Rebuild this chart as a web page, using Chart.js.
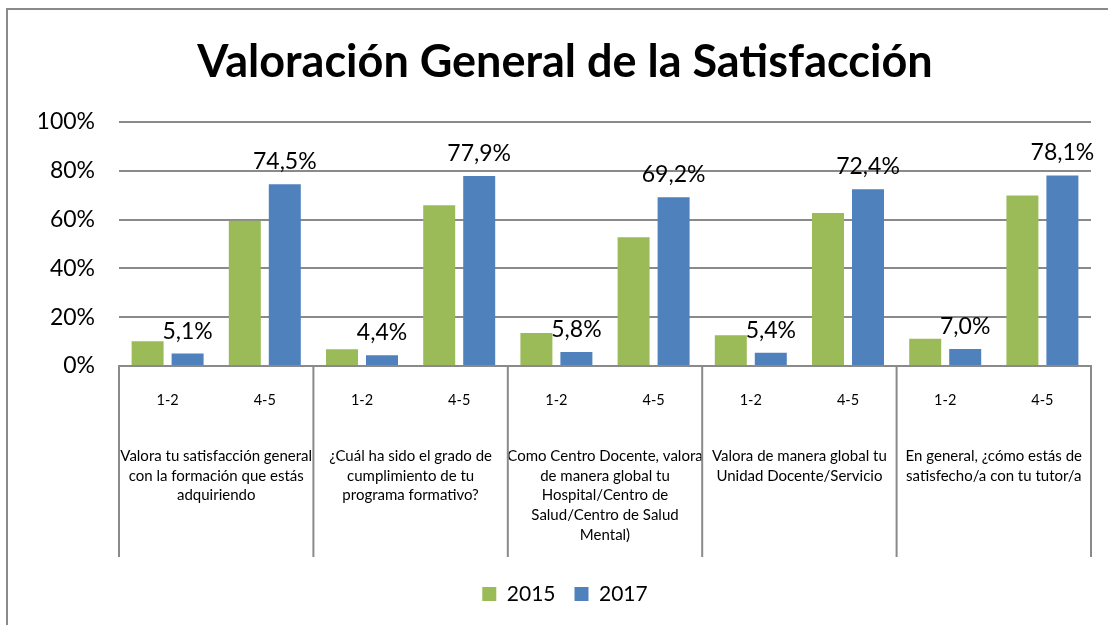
<!DOCTYPE html>
<html>
<head>
<meta charset="utf-8">
<script src="https://cdn.jsdelivr.net/npm/chart.js@4.4.1/dist/chart.umd.min.js"></script>
<style>
  html, body { margin: 0; padding: 0; background: #fff; overflow: hidden; }
  #caja { position: relative; width: 1108px; height: 625px; }
</style>
</head>
<body>
<div id="caja"><canvas id="grafico"></canvas></div>
<script>
// Datos del gráfico
const puntuaciones = ['1-2', '4-5', '1-2', '4-5', '1-2', '4-5', '1-2', '4-5', '1-2', '4-5'];
const preguntas = [
    ['Valora tu satisfacción general', 'con la formación que estás', 'adquiriendo'],
    ['¿Cuál ha sido el grado de', 'cumplimiento de tu', 'programa formativo?'],
    ['Como Centro Docente, valora', 'de manera global tu', 'Hospital/Centro de', 'Salud/Centro de Salud', 'Mental)'],
    ['Valora de manera global tu', 'Unidad Docente/Servicio'],
    ['En general, ¿cómo estás de', 'satisfecho/a con tu tutor/a']
];
const series = ['2015', '2017'];
const valores2015 = [10.2, 59.5, 6.9, 65.9, 13.5, 52.8, 12.6, 62.7, 11.2, 69.9];
const valores2017 = [5.1, 74.5, 4.4, 77.9, 5.8, 69.2, 5.4, 72.4, 7.0, 78.1];
const ticksY = [0, 20, 40, 60, 80, 100];

const verde = '#9BBB59';
const azul = '#4F81BD';
const gris = '#8a8a8a';

// formato 74,5%
const pct = (v) => v.toFixed(1).replace('.', ',') + '%';

Chart.defaults.font.family = 'Lato';
Chart.defaults.color = '#000';

// marco del gráfico (solo se ven lado izquierdo y superior)
const marco = {
    id: 'marco',
    beforeDraw(chart) {
        const ctx = chart.ctx;
        ctx.save();
        ctx.fillStyle = '#fff';
        ctx.fillRect(0, 0, chart.width, chart.height);
        ctx.strokeStyle = gris;
        ctx.lineWidth = 2;
        ctx.beginPath();
        ctx.moveTo(7, chart.height);
        ctx.lineTo(7, 9);
        ctx.lineTo(chart.width, 9);
        ctx.stroke();
        ctx.restore();
    }
};

// líneas que separan cada pregunta en el eje
const separadores = {
    id: 'separadores',
    afterDraw(chart) {
        const { ctx, chartArea, scales } = chart;
        const xg = scales.xg;
        ctx.save();
        ctx.strokeStyle = gris;
        ctx.lineWidth = 2;
        for (let i = 0; i <= preguntas.length; i++) {
            const x = xg.getPixelForValue(i - 0.5);
            ctx.beginPath();
            ctx.moveTo(x, chartArea.bottom);
            ctx.lineTo(x, xg.bottom);
            ctx.stroke();
        }
        ctx.restore();
    }
};

// etiquetas de la serie 2017
const etiquetas = {
    id: 'etiquetas',
    afterDatasetsDraw(chart) {
        const ctx = chart.ctx;
        const meta = chart.getDatasetMeta(1);
        ctx.save();
        ctx.font = '23px Lato';
        ctx.fillStyle = '#000';
        ctx.textAlign = 'center';
        ctx.textBaseline = 'alphabetic';
        meta.data.forEach((barra, i) => {
            ctx.fillText(pct(valores2017[i]), barra.x, barra.y - 15);
        });
        ctx.restore();
    }
};

new Chart(document.getElementById('grafico'), {
    type: 'bar',
    data: {
        labels: puntuaciones,
        datasets: [
            { label: series[0], data: valores2015, backgroundColor: verde },
            { label: series[1], data: valores2017, backgroundColor: azul }
        ]
    },
    plugins: [marco, separadores, etiquetas],
    options: {
        responsive: true,
        maintainAspectRatio: false,
        animation: false,
        categoryPercentage: 0.823,
        barPercentage: 0.8,
        layout: { padding: { left: 39, right: 17, top: 0, bottom: 10.5 } },
        plugins: {
            title: {
                display: true,
                text: 'Valoración General de la Satisfacción',
                font: { size: 45, weight: 'bold' },
                color: '#000',
                padding: { top: 35, bottom: 33 }
            },
            legend: {
                position: 'bottom',
                title: { display: true, text: '', font: { size: 1 }, padding: { top: 6.3, bottom: 0 } },
                labels: {
                    boxWidth: 14,
                    boxHeight: 14,
                    padding: 19,
                    font: { size: 21 }
                }
            },
            tooltip: { enabled: false }
        },
        scales: {
            y: {
                min: 0,
                max: 100,
                afterBuildTicks: (s) => { s.ticks = ticksY.map(v => ({ value: v })); },
                afterFit: (s) => { s.width = 80; },
                ticks: {
                    padding: 24,
                    font: { size: 23 },
                    callback: (v) => v + '%'
                },
                grid: { color: gris, lineWidth: 2, drawTicks: false },
                border: { display: false }
            },
            x: {
                weight: 0,
                ticks: {
                    autoSkip: false,
                    maxRotation: 0,
                    minRotation: 0,
                    padding: 25.3,
                    font: { size: 14.5, lineHeight: 1.2 }
                },
                grid: { display: false, drawTicks: false },
                border: { display: true, color: gris, width: 2 }
            },
            xg: {
                type: 'category',
                position: 'bottom',
                weight: 1,
                labels: preguntas,
                offset: true,
                ticks: {
                    autoSkip: false,
                    maxRotation: 0,
                    minRotation: 0,
                    padding: 12.1,
                    font: { size: 15, lineHeight: '19.75px' }
                },
                grid: { display: false, drawTicks: false },
                border: { display: false }
            }
        }
    }
});
</script>
</body>
</html>
